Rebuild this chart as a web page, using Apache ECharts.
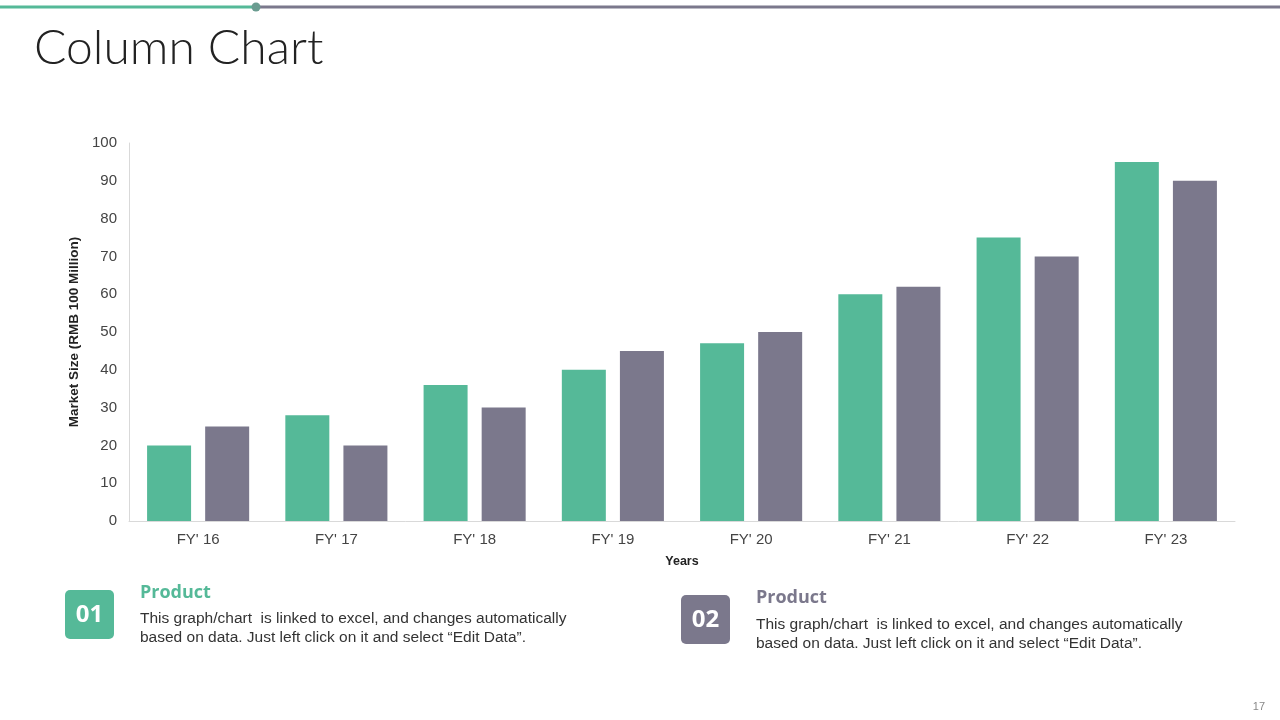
<!DOCTYPE html>
<html>
<head>
<meta charset="utf-8">
<script src="https://cdn.jsdelivr.net/npm/echarts@6/dist/echarts.min.js"></script>
<style>
html,body{margin:0;padding:0;background:#fff;}
#c{width:1280px;height:720px;}
</style>
</head>
<body>
<div id="c"></div>
<script>
const categories = ["FY' 16","FY' 17","FY' 18","FY' 19","FY' 20","FY' 21","FY' 22","FY' 23"];
const series1 = [20, 28, 36, 40, 47, 60, 75, 95];
const series2 = [25, 20, 30, 45, 50, 62, 70, 90];
const yTicks = {min: 0, max: 100, interval: 10};

const green = '#55B998';
const gray = '#7B788C';
const bodyText = 'This graph/chart  is linked to excel, and changes automatically\nbased on data. Just left click on it and select \u201cEdit Data\u201d.';

const chart = echarts.init(document.getElementById('c'));
chart.setOption({
  animation: false,
  backgroundColor: '#fff',
  grid: {left: 129, right: 45, top: 143, bottom: 199},
  xAxis: {
    type: 'category',
    data: categories,
    name: 'Years',
    nameLocation: 'middle',
    nameGap: 34,
    nameTextStyle: {fontFamily: 'Liberation Sans', fontWeight: 'bold', fontSize: 12.5, color: '#222'},
    axisLine: {lineStyle: {color: '#d9d9d9'}},
    axisTick: {show: false},
    axisLabel: {fontFamily: 'Liberation Sans', fontSize: 15, color: '#444', margin: 11}
  },
  yAxis: {
    type: 'value',
    min: yTicks.min, max: yTicks.max, interval: yTicks.interval,
    name: 'Market Size (RMB 100 Million)',
    nameLocation: 'middle',
    nameGap: 40,
    nameTextStyle: {fontFamily: 'Liberation Sans', fontWeight: 'bold', fontSize: 13.5, color: '#222'},
    axisLine: {show: true, lineStyle: {color: '#d9d9d9'}},
    axisTick: {show: false},
    splitLine: {show: false},
    axisLabel: {fontFamily: 'Liberation Sans', fontSize: 15, color: '#444', margin: 12}
  },
  series: [
    {type: 'bar', data: series1, itemStyle: {color: green}, barWidth: 44, barGap: '32%'},
    {type: 'bar', data: series2, itemStyle: {color: gray}, barWidth: 44, barGap: '32%'}
  ],
  graphic: [
    {type: 'line', shape: {x1: 0, y1: 7, x2: 256, y2: 7}, style: {stroke: green, lineWidth: 3}},
    {type: 'line', shape: {x1: 256, y1: 7, x2: 1280, y2: 7}, style: {stroke: gray, lineWidth: 3}},
    {type: 'circle', shape: {cx: 256, cy: 7, r: 4.5}, style: {fill: '#6a9c90'}},
    {type: 'text', left: 34, top: 25, style: {text: 'Column Chart', font: '300 48px Lato', fill: '#222'}},
    {type: 'rect', shape: {x: 65, y: 590, width: 49, height: 49, r: 5}, style: {fill: green}},
    {type: 'text', style: {x: 89.5, y: 615, text: '01', font: 'bold 24px "Open Sans"', fill: '#fff', align: 'center', verticalAlign: 'middle'}},
    {type: 'text', style: {x: 140, y: 593, text: 'Product', font: 'bold 18px "Open Sans"', fill: green, verticalAlign: 'middle'}},
    {type: 'text', style: {x: 140, y: 609, text: bodyText, font: '15.5px "Liberation Sans"', fill: '#333', lineHeight: 19}},
    {type: 'rect', shape: {x: 681, y: 595, width: 49, height: 49, r: 5}, style: {fill: gray}},
    {type: 'text', style: {x: 705.5, y: 620, text: '02', font: 'bold 24px "Open Sans"', fill: '#fff', align: 'center', verticalAlign: 'middle'}},
    {type: 'text', style: {x: 756, y: 598, text: 'Product', font: 'bold 18px "Open Sans"', fill: gray, verticalAlign: 'middle'}},
    {type: 'text', style: {x: 756, y: 615, text: bodyText, font: '15.5px "Liberation Sans"', fill: '#333', lineHeight: 19}},
    {type: 'text', style: {x: 1265, y: 707, text: '17', font: '11px "Liberation Sans"', fill: '#888', align: 'right', verticalAlign: 'middle'}}
  ]
});
</script>
</body>
</html>
